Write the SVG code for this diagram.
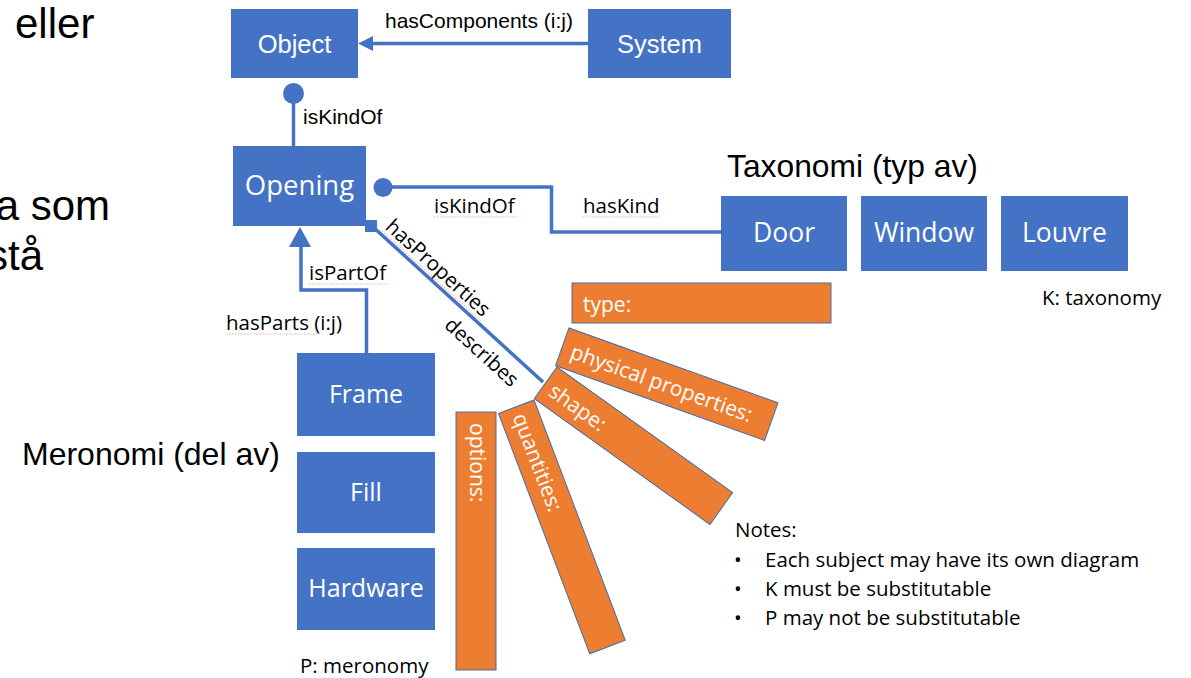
<svg xmlns="http://www.w3.org/2000/svg" width="1191" height="678" viewBox="0 0 1191 678">
<style>
.blue{fill:#4472C4;}
.org{fill:#ED7D31;stroke:#4A6FA5;stroke-width:1;}
.bt{font-family:"Open Sans","Noto Sans",sans-serif;fill:#fff;text-anchor:middle;}
.at{font-family:"Liberation Sans",Arial,sans-serif;fill:#fff;text-anchor:middle;font-size:25.5px;}
.ot{font-family:"Open Sans","Noto Sans",sans-serif;fill:#fff;font-size:21px;}
.lbl{font-family:"Open Sans","Noto Sans",sans-serif;fill:#000;font-size:20.5px;}
.albl{font-family:"Liberation Sans",Arial,sans-serif;fill:#000;font-size:21px;}
.big{font-family:"Liberation Sans",Arial,sans-serif;fill:#000;}
.con{fill:none;stroke:#4472C4;stroke-width:3.5;}
.sq{fill:none;stroke:#F08A8A;stroke-width:1;stroke-dasharray:1.5 1.5;opacity:0.7;}
</style>

<!-- background slide text fragments -->
<g id="slide-text">
<text class="big" x="15" y="38" font-size="42">eller</text>
<text class="big" x="110" y="220" font-size="42" text-anchor="end">a som</text>
<text class="big" x="43" y="270" font-size="42" text-anchor="end">stå</text>
<text class="big" x="727" y="177" font-size="31.8">Taxonomi (typ av)</text>
<text class="big" x="22" y="465" font-size="32">Meronomi (del av)</text>
</g>

<!-- connectors -->
<g id="connectors">
<!-- System -> Object -->
<line class="con" x1="588" y1="43.5" x2="370" y2="43.5" stroke-width="3"/>
<polygon points="358,43.5 373,36 373,51" fill="#4472C4"/>
<!-- Opening isKindOf Object -->
<line class="con" x1="293.5" y1="100" x2="293.5" y2="146" stroke-width="4"/>
<circle cx="293.5" cy="93.5" r="10.5" fill="#4472C4"/>
<!-- Opening - Door -->
<polyline class="con" points="390,187 551.5,187 551.5,232 721,232" stroke-width="3"/>
<circle cx="383" cy="187.5" r="9.5" fill="#4472C4"/>
<!-- Frame isPartOf Opening -->
<polyline class="con" points="366.5,353 366.5,290 301,290 301,245" stroke-width="4"/>
<polygon points="300,227 311,247 289,247" fill="#4472C4"/>
<!-- hasProperties -->
<line class="con" x1="372" y1="226" x2="543" y2="382" stroke-width="3"/>
<rect x="365" y="220" width="12" height="12" fill="#4472C4"/>
</g>

<!-- connector labels -->
<g id="labels">
<text class="albl" x="385" y="28">hasComponents (i:j)</text>
<text class="albl" x="303" y="124" font-size="20.5">isKindOf</text>
<text class="lbl" x="434" y="213">isKindOf</text>
<line class="sq" x1="434" y1="217" x2="517" y2="217"/>
<text class="lbl" x="583" y="213">hasKind</text>
<line class="sq" x1="583" y1="217" x2="659" y2="217"/>
<text class="lbl" x="309" y="280" font-size="21">isPartOf</text>
<line class="sq" x1="309" y1="284" x2="388" y2="284"/>
<text class="lbl" x="226" y="330" font-size="21">hasParts (i:j)</text>
<line class="sq" x1="226" y1="334" x2="318" y2="334"/>
<g transform="translate(378,232) rotate(42.3)">
<text class="lbl" x="2" y="-7" font-size="21">hasProperties</text>
<line class="sq" x1="2" y1="-3.5" x2="136" y2="-3.5"/>
<text class="lbl" x="112" y="26" font-size="21.5">describes</text>
</g>
</g>

<!-- blue nodes -->
<g id="node-object"><rect class="blue" x="231" y="9" width="127" height="69"/><text class="at" x="294.5" y="53">Object</text></g>
<g id="node-system"><rect class="blue" x="588" y="9" width="143" height="69"/><text class="at" x="659.5" y="53">System</text></g>
<g id="node-opening"><rect class="blue" x="233" y="146" width="133" height="80"/><text class="bt" x="299.5" y="195" font-size="27.5">Opening</text></g>
<g id="node-door"><rect class="blue" x="721" y="196" width="126" height="75"/><text class="bt" x="784" y="242" font-size="26.5">Door</text></g>
<g id="node-window"><rect class="blue" x="861" y="196" width="126" height="75"/><text class="bt" x="924" y="242" font-size="26.5">Window</text></g>
<g id="node-louvre"><rect class="blue" x="1001" y="196" width="127" height="75"/><text class="bt" x="1064.5" y="242" font-size="26.5">Louvre</text></g>
<g id="node-frame"><rect class="blue" x="297" y="353" width="138" height="83"/><text class="bt" x="366" y="403" font-size="25">Frame</text></g>
<g id="node-fill"><rect class="blue" x="297" y="452" width="138" height="81"/><text class="bt" x="366" y="501" font-size="25">Fill</text></g>
<g id="node-hardware"><rect class="blue" x="297" y="548" width="138" height="82"/><text class="bt" x="366" y="597" font-size="25">Hardware</text></g>

<!-- orange property boxes -->
<g id="node-type"><rect class="org" x="572" y="283" width="259" height="40"/><text class="ot" x="583" y="312">type:</text></g>
<g id="node-physical" transform="translate(569,328) rotate(19.7)"><rect class="org" x="0" y="0" width="222" height="40"/><text class="ot" x="10" y="28">physical properties:</text></g>
<g id="node-shape" transform="translate(557,367) rotate(35.6)"><rect class="org" x="0" y="0" width="216" height="39"/><text class="ot" x="8" y="28">shape:</text></g>
<g id="node-quantities" transform="translate(534,400) rotate(69.2)"><rect class="org" x="0" y="0" width="257" height="38"/><text class="ot" x="8" y="26">quantities:</text></g>
<g id="node-options"><rect class="org" x="456" y="412" width="40" height="258"/><text class="ot" transform="translate(470,423) rotate(90)" x="0" y="0">options:</text></g>

<!-- annotations -->
<g id="notes">
<text class="lbl" x="1042" y="305">K: taxonomy</text>
<text class="lbl" x="300" y="673" font-size="21.5">P: meronomy</text>
<text class="lbl" x="735" y="537" font-size="21.5">Notes:</text>
<text class="lbl" x="734" y="567" font-size="21.5">•</text>
<text class="lbl" x="765" y="567" font-size="21.8">Each subject may have its own diagram</text>
<text class="lbl" x="734" y="596" font-size="21.5">•</text>
<text class="lbl" x="765" y="596" font-size="21.8">K must be substitutable</text>
<text class="lbl" x="734" y="625" font-size="21.5">•</text>
<text class="lbl" x="765" y="625" font-size="21.8">P may not be substitutable</text>
</g>
</svg>
